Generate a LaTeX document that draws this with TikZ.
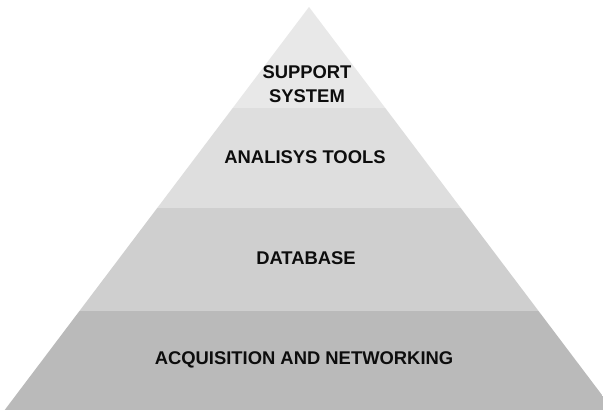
\documentclass[tikz,border=0pt]{standalone}
\usepackage{fontspec}
\setmainfont{Liberation Sans}
\begin{document}
\begin{tikzpicture}[x=1pt,y=-1pt,
  band/.style={draw=none},
  label/.style={font=\fontsize{18.4}{23.5}\selectfont\bfseries, text=black!95, align=center, inner sep=0pt}]
\useasboundingbox (0,0) rectangle (603,410);
\fill[white] (0,0) rectangle (603,410);
\begin{scope}
  \clip (309,7) -- (613.3,410) -- (4.7,410) -- cycle;
  \fill[band, fill=black!9]  (0,0)   rectangle (620,108);
  \fill[band, fill=black!13] (0,108) rectangle (620,208);
  \fill[band, fill=black!19] (0,208) rectangle (620,311);
  \fill[band, fill=black!27] (0,311) rectangle (620,410);
\end{scope}
\node[label] (support) at (307,84) {SUPPORT\\SYSTEM};
\node[label] (tools) at (305,157) {ANALISYS TOOLS};
\node[label] (db) at (306,258) {DATABASE};
\node[label] (acq) at (304,360) {ACQUISITION AND NETWORKING};
\end{tikzpicture}
\end{document}
